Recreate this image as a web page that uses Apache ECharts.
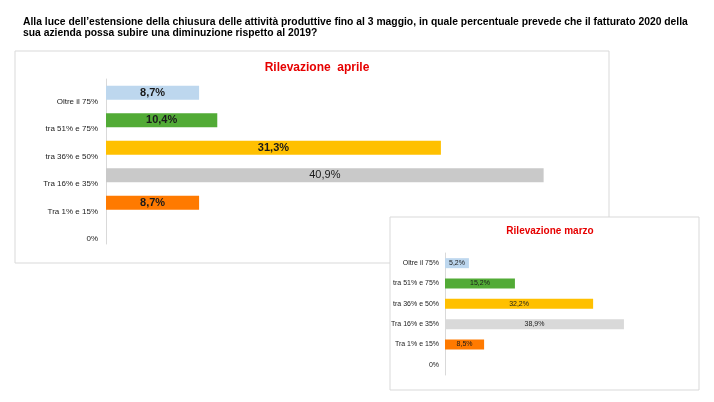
<!DOCTYPE html>
<html>
<head>
<meta charset="utf-8">
<style>
  html, body { margin: 0; padding: 0; background: #fff; }
  #main { width: 714px; height: 402px; }
</style>
<script src="https://cdn.jsdelivr.net/npm/echarts@6/dist/echarts.min.js"></script>
</head>
<body>
<div id="main"></div>
<script>
// categorie dal basso verso l'alto (asse y categoria)
var categorie = ['0%', 'Tra 1% e 15%', 'Tra 16% e 35%', 'tra 36% e 50%', 'tra 51% e 75%', 'Oltre il 75%'];
var valoriAprile = [null, 8.7, 40.9, 31.3, 10.4, 8.7];
var valoriMarzo = [null, 8.5, 38.9, 32.2, 15.2, 5.2];
var coloriAprile = ['#ffffff', '#ff7a00', '#c9c9c9', '#ffc000', '#52ab36', '#bdd7ee'];
var coloriMarzo = ['#ffffff', '#ff7a00', '#d9d9d9', '#ffc000', '#52ab36', '#bdd7ee'];

var domanda1 = 'Alla luce dell\u2019estensione della chiusura delle attività produttive fino al 3 maggio, in quale percentuale prevede che il fatturato 2020 della';
var domanda2 = 'sua azienda possa subire una diminuzione rispetto al 2019?';

var FONT = '"Liberation Sans", Arial, sans-serif';

var fmt = function(p){
    return p.value == null ? '' : p.value.toFixed(1).replace('.', ',') + '%';
};

var chart = echarts.init(document.getElementById('main'), null, {renderer: 'canvas'});

var option = {
    backgroundColor: '#ffffff',
    animation: false,
    textStyle: {fontFamily: FONT},
    title: [
        {
            text: 'Rilevazione  aprile',
            left: 312, top: 57, textAlign: 'center',
            textStyle: {color: '#e60000', fontSize: 12, fontWeight: 'bold', fontFamily: FONT}
        },
        {
            text: 'Rilevazione marzo',
            left: 545, top: 221, textAlign: 'center',
            textStyle: {color: '#e60000', fontSize: 10, fontWeight: 'bold', fontFamily: FONT}
        }
    ],
    graphic: [
        // testo della domanda, un po' stretto come nell'originale
        {
            type: 'text', x: 23, y: 16, scaleX: 0.94, z: 0,
            style: {text: domanda1, font: 'bold 11px ' + FONT, fill: '#000'}
        },
        {
            type: 'text', x: 23, y: 27, scaleX: 0.94, z: 0,
            style: {text: domanda2, font: 'bold 11px ' + FONT, fill: '#000'}
        },
        {
            type: 'rect', z: 0,
            shape: {x: 15, y: 51, width: 594, height: 212},
            style: {fill: 'none', stroke: '#d9d9d9', lineWidth: 1}
        },
        {
            type: 'rect', z: 1,
            shape: {x: 390, y: 217, width: 309, height: 173},
            style: {fill: '#ffffff', stroke: '#d9d9d9', lineWidth: 1}
        }
    ],
    grid: [
        {left: 106, top: 79, width: 481.5, height: 165},
        {left: 445, top: 253, width: 207, height: 122}
    ],
    xAxis: [
        {gridIndex: 0, type: 'value', min: 0, max: 45, show: false},
        {gridIndex: 1, type: 'value', min: 0, max: 45, show: false}
    ],
    yAxis: [
        {
            gridIndex: 0, type: 'category', data: categorie, z: 3,
            axisLine: {lineStyle: {color: '#d9d9d9'}},
            axisTick: {length: 3, lineStyle: {color: '#d9d9d9'}},
            axisLabel: {margin: 8, fontSize: 8, color: '#222', fontFamily: FONT,
                        verticalAlign: 'top', lineHeight: 18}
        },
        {
            gridIndex: 1, type: 'category', data: categorie, z: 3,
            axisLine: {lineStyle: {color: '#d9d9d9'}},
            axisTick: {length: 2, lineStyle: {color: '#d9d9d9'}},
            axisLabel: {margin: 6, fontSize: 7, color: '#222', fontFamily: FONT}
        }
    ],
    series: [
        {
            type: 'bar', xAxisIndex: 0, yAxisIndex: 0, z: 3,
            barWidth: 14,
            data: valoriAprile.map(function(v, i){
                var item = {value: v, itemStyle: {color: coloriAprile[i]}};
                if (v === 40.9) item.label = {fontWeight: 'normal'};
                return item;
            }),
            label: {
                show: true, position: 'inside', formatter: fmt,
                fontSize: 11, fontWeight: 'bold', color: '#1a1a1a', fontFamily: FONT
            }
        },
        {
            type: 'bar', xAxisIndex: 1, yAxisIndex: 1, z: 3,
            barWidth: 10,
            data: valoriMarzo.map(function(v, i){
                return {value: v, itemStyle: {color: coloriMarzo[i]}};
            }),
            label: {
                show: true, position: 'inside', formatter: fmt,
                fontSize: 7, color: '#1a1a1a', fontFamily: FONT
            }
        }
    ]
};

chart.setOption(option);
</script>
</body>
</html>
